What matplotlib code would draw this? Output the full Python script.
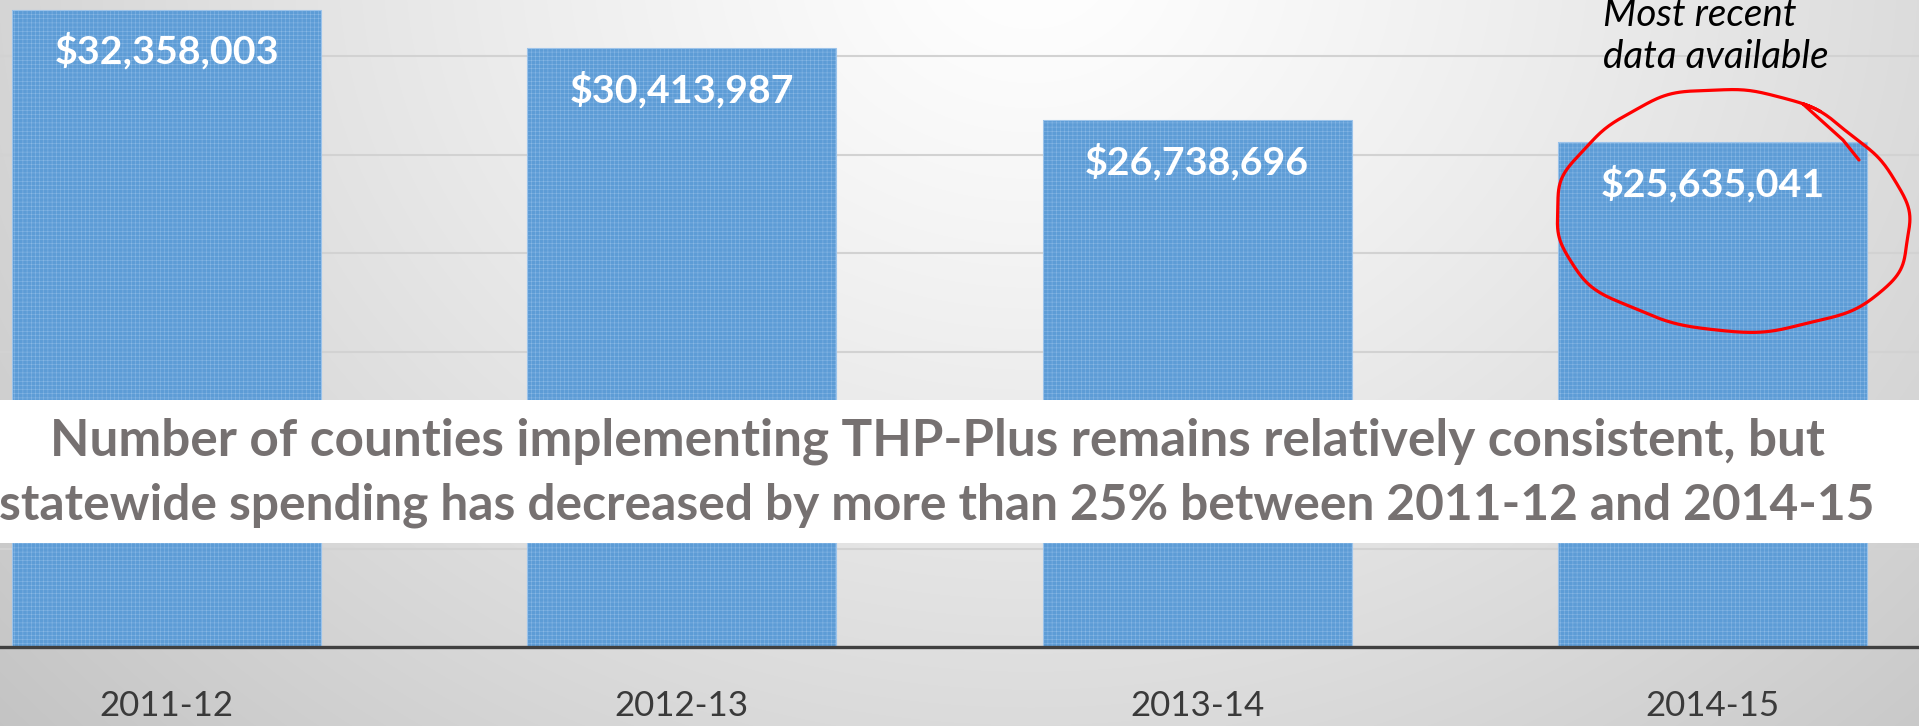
import numpy as np
import matplotlib
matplotlib.use("Agg")
import matplotlib.pyplot as plt
from matplotlib.patches import Rectangle

# ---------------- data ----------------
years = ["2011-12", "2012-13", "2013-14", "2014-15"]
spending = [32358003, 30413987, 26738696, 25635041]
value_labels = ["$32,358,003", "$30,413,987", "$26,738,696", "$25,635,041"]
headline = ["Number of counties implementing THP-Plus remains relatively consistent, but",
            "statewide spending has decreased by more than 25% between 2011-12 and 2014-15"]
note = ["Most recent", "data available"]

W, H, DPI = 1919, 726, 100
plt.rcParams['font.family'] = ['Lato', 'DejaVu Sans']
plt.rcParams['hatch.color'] = '#8bb9e6'
plt.rcParams['hatch.linewidth'] = 0.35

fig = plt.figure(figsize=(W / DPI, H / DPI), dpi=DPI)

# ---------------- background gradient ----------------
bg = fig.add_axes([0, 0, 1, 1], zorder=-5)
yy, xx = np.mgrid[0:H, 0:W]
d = np.sqrt(((xx - 1030) / 950.0) ** 2 + ((yy + 40) / 800.0) ** 2)
v = 255 - 38 * d ** 1.2
v = np.clip(v, 190, 255) / 255.0
bg.imshow(np.dstack([v, v, v]), extent=[0, 1, 0, 1], aspect='auto', origin='upper',
          interpolation='bilinear')
bg.set_xlim(0, 1); bg.set_ylim(0, 1)
bg.axis('off')

# ---------------- main axes ----------------
axis_px = 647            # pixel row (from top) of the category axis
px_per_unit = 98.5 / 5e6
ax = fig.add_axes([0, (H - axis_px) / H, 1, axis_px / H])
ax.set_facecolor('none')
x = np.arange(len(years))
slot = 515.3
ax.set_xlim(-166.5 / slot, (W - 166.5) / slot)
ax.set_ylim(0, axis_px / px_per_unit)

ax.set_yticks(np.arange(0, 35e6, 5e6))
ax.yaxis.grid(True, color='#d2d2d2', lw=1.5, zorder=0)
ax.set_axisbelow(True)
ax.tick_params(axis='y', left=False, labelleft=False)
for s in ax.spines.values():
    s.set_visible(False)
ax.axhline(0, color='#404040', lw=2.4, zorder=4, clip_on=False)

bars = ax.bar(x, spending, width=0.60, color='#5d9cd6', linewidth=0, hatch='++++', zorder=2)
ax.bar(x, spending, width=0.60, fill=False, edgecolor='#9cc3ea', linewidth=0.8, zorder=2.5)

ax.set_xticks(x)
ax.set_xticklabels(years, color='#3a3a3a', fontsize=24)
ax.tick_params(axis='x', length=0, pad=30)

vtexts = []
for xi, val, lab in zip(x, spending, value_labels):
    t = ax.annotate(lab, (xi, val), xytext=(0, -30), textcoords='offset points',
                    ha='center', va='center', color='white', fontweight='bold',
                    fontsize=28, zorder=5)
    vtexts.append(t)

# ---------------- white band with headline ----------------
band = Rectangle((0, (H - 543) / H), 1, 143 / H, transform=fig.transFigure,
                 facecolor='white', edgecolor='none', zorder=10)
fig.add_artist(band)
h1 = fig.text(937 / W, 1 - 441 / H, headline[0], ha='center', va='center',
              color='#767171', fontweight='bold', fontsize=40, zorder=11)
h2 = fig.text(937 / W, 1 - 505 / H, headline[1], ha='center', va='center',
              color='#767171', fontweight='bold', fontsize=40, zorder=11)

# ---------------- note + hand drawn circle ----------------
n1 = fig.text(1603 / W, 1 - 15 / H, note[0], ha='left', va='center', color='black',
              fontstyle='italic', fontsize=23, zorder=12)
n2 = fig.text(1603 / W, 1 - 57 / H, note[1], ha='left', va='center', color='black',
              fontstyle='italic', fontsize=23, zorder=12)

th = np.linspace(1.0, 1.0 + 2 * np.pi + 0.12, 500)
cx, cy, rx, ry = 1733, 210, 176, 121
wob = 1 + 0.008 * np.sin(7 * th) + 0.006 * np.sin(13 * th + 1)
px = cx + rx * wob * np.cos(th) - 10 * np.sin(2 * th)
py = cy - ry * wob * np.sin(th) + 8 * np.cos(th)
px = np.append(px, [1843, 1859])
py = np.append(py, [140, 160])
fig.add_artist(plt.Line2D(px / W, 1 - py / H, transform=fig.transFigure,
                          color='#ff0000', lw=2.3, zorder=13,
                          solid_joinstyle='round', solid_capstyle='round'))

# ---------------- fit text widths ----------------
fig.canvas.draw()
r = fig.canvas.get_renderer()


def fit(t, target):
    w = t.get_window_extent(r).width
    t.set_fontsize(t.get_fontsize() * target / w)


fit(h2, 1875)
fit(h1, 1775)
fit(vtexts[0], 224)
for t in vtexts[1:]:
    t.set_fontsize(vtexts[0].get_fontsize())
fit(n2, 226)
n1.set_fontsize(n2.get_fontsize())

tl = ax.get_xticklabels()
w0 = tl[0].get_window_extent(r).width
fs = 24 * 135 / w0
ax.tick_params(axis='x', labelsize=fs)
fig.canvas.draw()
bb = ax.get_xticklabels()[0].get_window_extent(r)
center_from_top = H - (bb.y0 + bb.y1) / 2
shift_px = 706 - center_from_top
ax.tick_params(axis='x', pad=30 + shift_px * 72 / DPI)

fig.savefig('out.png', dpi=DPI)
